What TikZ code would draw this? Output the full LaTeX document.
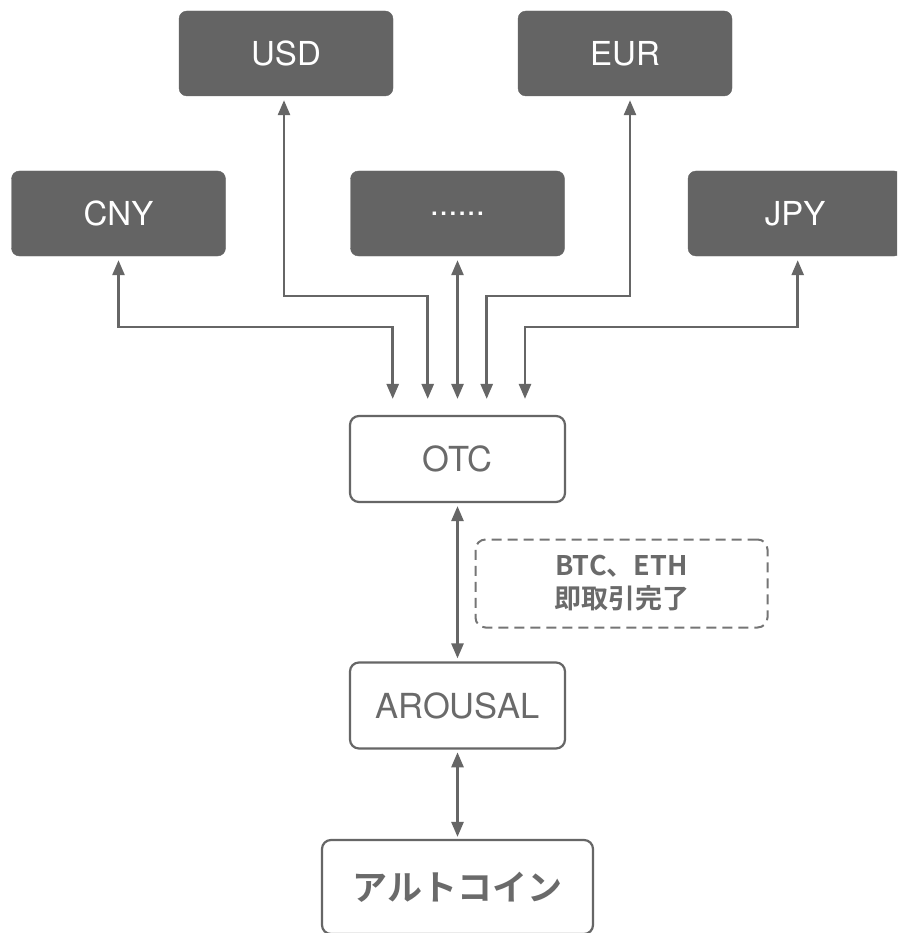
\documentclass[tikz,border=0pt]{standalone}
\usepackage{fontspec}
\setmainfont{TeX Gyre Heros}
\newfontfamily\cjk{Noto Sans CJK JP}[BoldFont={Noto Sans CJK JP Bold}]
\usetikzlibrary{arrows.meta,calc}
\definecolor{boxgray}{HTML}{646464}
\definecolor{linegray}{HTML}{666666}
\definecolor{txtgray}{HTML}{6A6A6A}
\begin{document}
\begin{tikzpicture}[x=1pt,y=-1pt,
 dark/.style={draw=boxgray, fill=boxgray, rounded corners=8pt, minimum width=214pt, minimum height=85pt, text=white, font=\fontsize{33}{36}\selectfont, inner sep=0pt},
 light/.style={draw=linegray, line width=2.2pt, fill=white, rounded corners=9pt, minimum width=215pt, minimum height=86pt, text=txtgray, font=\fontsize{34.5}{38}\selectfont, inner sep=0pt},
 arr/.style={draw=linegray, line width=2.6pt, {Triangle[length=15pt,width=12pt]}-{Triangle[length=15pt,width=12pt]}},
 notebox/.style={draw=linegray!90, line width=2pt, dash pattern=on 10pt off 6pt, rounded corners=10pt, minimum width=292pt, minimum height=88pt, text=txtgray, align=center, inner sep=0pt, font=\cjk\bfseries\fontsize{27}{33}\selectfont},
]
\clip (0,0) rectangle (897,933);
\fill[white] (0,0) rectangle (897,933);
\node[dark] (usd) at (286,53.5) {USD};
\node[dark] (eur) at (625,53.5) {EUR};
\node[dark] (cny) at (118.5,213.5) {CNY};
\node[dark] (dots) at (457.5,213.5) {......};
\node[dark] (jpy) at (795,213.5) {JPY};
\node[light] (otc) at (457.5,459) {OTC};
\node[light] (aro) at (457.5,705.5) {AROUSAL};
\node[light, minimum width=271pt, minimum height=94pt, font=\cjk\bfseries\fontsize{35}{38}\selectfont] (alt) at (457.5,887) {アルトコイン};
\node[notebox] (note) at (621.5,583.5) {BTC、ETH\\即取引完了};
\draw[arr, shorten <=4pt, shorten >=16pt] (cny.south) -- ++(0,70.7) -| ([xshift=-64.8pt]otc.north);
\draw[arr, shorten <=4pt, shorten >=16pt] ([xshift=-2pt]usd.south) -- ++(0,199.7) -| ([xshift=-29.8pt]otc.north);
\draw[arr, shorten <=4pt, shorten >=16pt] (dots.south) -- (otc.north);
\draw[arr, shorten <=4pt, shorten >=16pt] ([xshift=5pt]eur.south) -- ++(0,199.7) -| ([xshift=29.2pt]otc.north);
\draw[arr, shorten <=4pt, shorten >=16pt] ([xshift=2.7pt]jpy.south) -- ++(0,70.7) -| ([xshift=67.5pt]otc.north);
\draw[arr, shorten <=3pt, shorten >=3pt] (otc.south) -- (aro.north);
\draw[arr, shorten <=2.7pt, shorten >=2pt] (aro.south) -- (alt.north);
\end{tikzpicture}
\end{document}
